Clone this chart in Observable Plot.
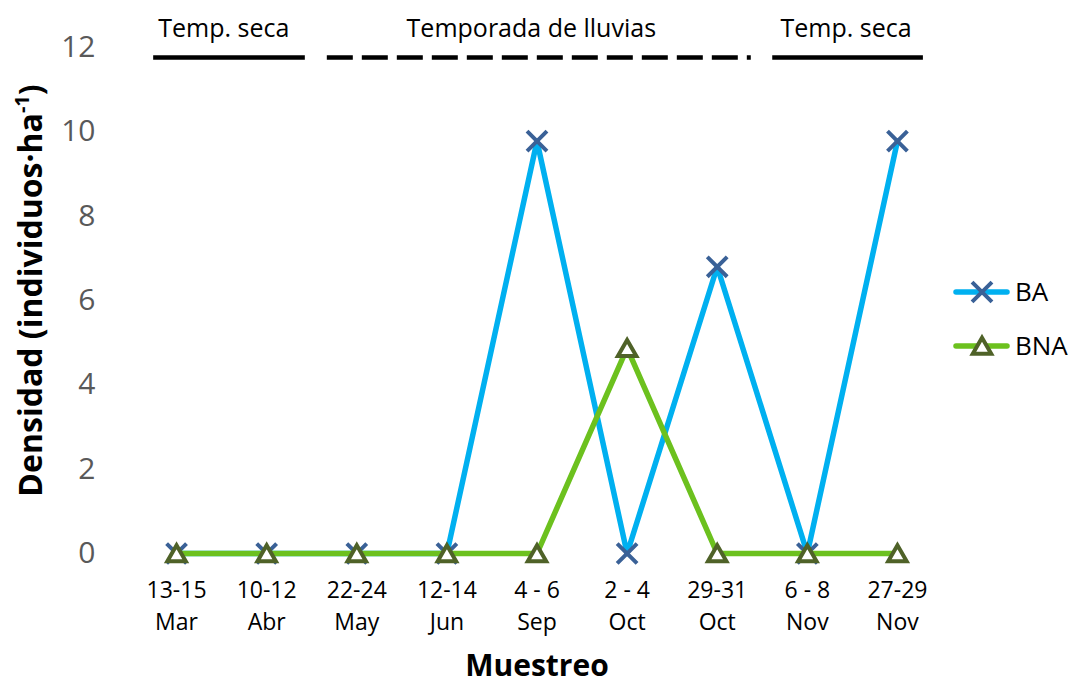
<!DOCTYPE html>
<html>
<head>
<meta charset="utf-8">
<script src="https://cdn.jsdelivr.net/npm/d3@7"></script>
<script src="https://cdn.jsdelivr.net/npm/@observablehq/plot@0.6"></script>
<style>
  body { margin: 0; background: #fff; font-family: "Open Sans", sans-serif; }
  #chart { position: relative; width: 1074px; height: 686px; }
  #legend { position: absolute; left: 940px; top: 262px; }
</style>
</head>
<body>
<div id="chart"></div>
<script>
// Sampling dates (two-line tick labels)
const samplingDates = ["13-15\nMar", "10-12\nAbr", "22-24\nMay", "12-14\nJun", "4 - 6\nSep", "2 - 4\nOct", "29-31\nOct", "6 - 8\nNov", "27-29\nNov"];
// Density (individuos·ha⁻¹) per sampling
const baValues = [0, 0, 0, 0, 9.78, 0, 6.8, 0, 9.78];
const bnaValues = [0, 0, 0, 0, 0, 4.87, 0, 0, 0];
const seriesNames = ["BA", "BNA"];
const yTicks = [0, 2, 4, 6, 8, 10, 12];

// Season bands along the top, in sampling-index units
const seasonLabels = ["Temp. seca", "Temporada de lluvias", "Temp. seca"];
const seasonStart = [-0.254, 1.673, 6.616];
const seasonEnd = [1.429, 6.378, 8.288];
const seasonLabelAt = [0.524, 3.937, 7.43];
const seasonDashed = [false, true, false];
const seasonLevel = 11.76;

const BA_LINE = "#00B0F0", BA_MARK = "#3A6197";
const BNA_LINE = "#6CC11E", BNA_MARK = "#4F6228";

const ba = baValues.map((v, i) => ({i, v}));
const bna = bnaValues.map((v, i) => ({i, v}));
const seasons = seasonLabels.map((label, k) => ({
  label, x1: seasonStart[k], x2: seasonEnd[k], at: seasonLabelAt[k], dashed: seasonDashed[k], y: seasonLevel
}));

const Y_TITLE = "Densidad (individuos·ha-1)";

const plot = Plot.plot({
  width: 1074,
  height: 686,
  marginLeft: 131,
  marginRight: 132,
  marginTop: 47,
  marginBottom: 133,
  style: {fontFamily: "'Open Sans', sans-serif", background: "white", overflow: "visible"},
  x: {type: "linear", domain: [-0.5, 8.5]},
  y: {domain: [0, 12]},
  marks: [
    Plot.axisY({ticks: yTicks, tickSize: 0, tickPadding: 36, fontSize: 30, color: "#595959", label: null}),
    Plot.axisX({ticks: d3.range(samplingDates.length), tickFormat: i => samplingDates[i],
      tickSize: 0, tickPadding: 22, fontSize: 23, lineHeight: 1.39, color: "black", label: null}),
    // season rules and labels
    Plot.ruleY(seasons.filter(d => !d.dashed), {y: "y", x1: "x1", x2: "x2", stroke: "black", strokeWidth: 4.5}),
    Plot.ruleY(seasons.filter(d => d.dashed), {y: "y", x1: "x1", x2: "x2", stroke: "black", strokeWidth: 4.5, strokeDasharray: "26,9"}),
    Plot.text(seasons, {x: "at", y: "y", text: "label", dy: -29, fontSize: 25, fill: "black"}),
    // BA series
    Plot.line(ba, {x: "i", y: "v", stroke: BA_LINE, strokeWidth: 5.5, strokeLinejoin: "round"}),
    Plot.dot(ba, {x: "i", y: "v", symbol: "times", r: 9.1, stroke: BA_MARK, strokeWidth: 4}),
    // BNA series
    Plot.line(bna, {x: "i", y: "v", stroke: BNA_LINE, strokeWidth: 5.5, strokeLinejoin: "round"}),
    Plot.dot(bna, {x: "i", y: "v", symbol: "triangle2", r: 8.8, dy: 2.5, stroke: BNA_MARK, fill: "white", strokeWidth: 4}),
    // axis titles
    Plot.text(["Muestreo"], {frameAnchor: "bottom", lineAnchor: "middle", textAnchor: "middle", dy: 113,
      fontSize: 30, fontWeight: "bold", fill: "black"}),
    Plot.text([Y_TITLE], {frameAnchor: "left", textAnchor: "middle", lineAnchor: "middle", dx: -100, dy: -10,
      rotate: -90, fontSize: 32, fontWeight: "bold", fill: "black"})
  ]
});

// superscript for the unit in the y title
d3.select(plot).selectAll("text").filter(function () { return this.textContent === Y_TITLE; })
  .each(function () {
    const t = d3.select(this);
    t.text(null);
    t.append("tspan").text("Densidad (individuos·ha");
    t.append("tspan").attr("baseline-shift", "super").attr("font-size", 20).text("-1");
    t.append("tspan").text(")");
  });

document.getElementById("chart").appendChild(plot);

// legend
const legend = d3.select("#chart").append("svg").attr("id", "legend").attr("width", 134).attr("height", 110);
const rows = [
  {name: seriesNames[0], line: BA_LINE, mark: BA_MARK, y: 30, symbol: d3.symbolTimes, r: 9.1, fill: "none", dy: 0},
  {name: seriesNames[1], line: BNA_LINE, mark: BNA_MARK, y: 84, symbol: d3.symbolTriangle2, r: 8.8, fill: "white", dy: 2.5}
];
rows.forEach(row => {
  legend.append("line").attr("x1", 16).attr("x2", 67).attr("y1", row.y).attr("y2", row.y)
    .attr("stroke", row.line).attr("stroke-width", 5.5).attr("stroke-linecap", "round");
  legend.append("path").attr("d", d3.symbol(row.symbol, Math.PI * row.r * row.r)())
    .attr("transform", `translate(42,${row.y + row.dy})`)
    .attr("stroke", row.mark).attr("stroke-width", 4).attr("fill", row.fill);
  legend.append("text").attr("x", 75).attr("y", row.y).attr("dy", "0.35em")
    .attr("font-family", "'Open Sans', sans-serif").attr("font-size", 26).attr("fill", "black").text(row.name);
});
</script>
</body>
</html>
